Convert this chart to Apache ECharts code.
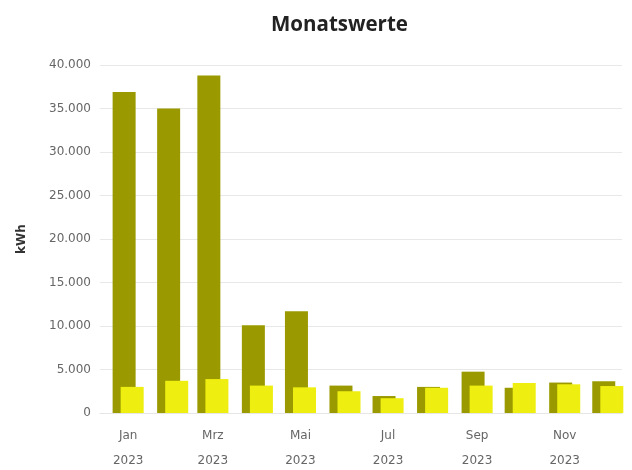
<!DOCTYPE html>
<html>
<head>
<meta charset="utf-8">
<script src="https://cdn.jsdelivr.net/npm/echarts@6/dist/echarts.min.js"></script>
<style>
  html, body { margin: 0; padding: 0; background: #ffffff; }
  #chart { width: 632px; height: 470px; }
</style>
</head>
<body>
<div id="chart"></div>
<script>
// ---- data ----
const months = ['2023-01-01','2023-02-01','2023-03-01','2023-04-01','2023-05-01','2023-06-01',
                '2023-07-01','2023-08-01','2023-09-01','2023-10-01','2023-11-01','2023-12-01'];
const monthNames = ['Jan','Feb','Mrz','Apr','Mai','Jun','Jul','Aug','Sep','Okt','Nov','Dez'];
const bezug = [36900, 35000, 38800, 10100, 11700, 3150, 1950, 3000, 4750, 2900, 3500, 3650];
const erzeugung = [3000, 3700, 3900, 3150, 2950, 2500, 1700, 2900, 3150, 3450, 3300, 3100];
const labelMonths = ['2023-01-01','2023-03-01','2023-05-01','2023-07-01','2023-09-01','2023-11-01'];

// day number within the axis (days since 2023-01-01)
const DAY = 86400000;
function dayNum(s) { const p = s.split('-').map(Number); return (Date.UTC(p[0], p[1]-1, p[2]) - Date.UTC(2023, 0, 1)) / DAY; }
function dayToLabel(d) { const dt = new Date(Date.UTC(2023, 0, 1) + d * DAY); return monthNames[dt.getUTCMonth()] + '\n' + dt.getUTCFullYear(); }
const xs = months.map(dayNum);

const fmtDE = v => String(v).replace(/\B(?=(\d{3})+(?!\d))/g, '.');

const chart = echarts.init(document.getElementById('chart'), null, { renderer: 'canvas' });
chart.setOption({
  animation: false,
  title: {
    text: 'Monatswerte',
    left: 266,
    top: 10,
    textStyle: { fontFamily: 'Open Sans', fontWeight: 'bold', fontSize: 20.5, color: '#222' }
  },
  grid: { left: 100, right: 10, top: 65, bottom: 57, containLabel: false, outerBoundsMode: 'none' },
  xAxis: {
    type: 'value',
    min: xs[0] - 19.6,
    max: xs[11] + 9.9,
    axisLine: { show: true, lineStyle: { color: '#e6e6e6' } },
    axisTick: { show: false },
    splitLine: { show: false },
    axisLabel: {
      customValues: labelMonths.map(dayNum),
      formatter: v => dayToLabel(v),
      color: '#666', fontFamily: 'DejaVu Sans', fontSize: 12,
      lineHeight: 25, margin: 10
    }
  },
  yAxis: {
    type: 'value',
    min: 0, max: 40000, interval: 5000,
    name: 'kWh',
    nameLocation: 'middle',
    nameRotate: 90,
    nameGap: 72,
    nameTextStyle: { fontFamily: 'DejaVu Sans', fontWeight: 'bold', fontSize: 12, color: '#333' },
    axisLine: { show: false },
    axisTick: { show: false },
    splitLine: { lineStyle: { color: '#e8e8e8' } },
    axisLabel: { formatter: v => fmtDE(v), color: '#666', fontFamily: 'DejaVu Sans', fontSize: 12, margin: 9 }
  },
  series: [
    {
      name: 'Bezug', type: 'bar', barWidth: 23, barGap: '-65%',
      itemStyle: { color: '#9a9a00' },
      data: xs.map((x, i) => [x, bezug[i]])
    },
    {
      name: 'Erzeugung', type: 'bar', barWidth: 23,
      itemStyle: { color: '#eeee10' },
      data: xs.map((x, i) => [x, erzeugung[i]])
    }
  ]
});
</script>
</body>
</html>
